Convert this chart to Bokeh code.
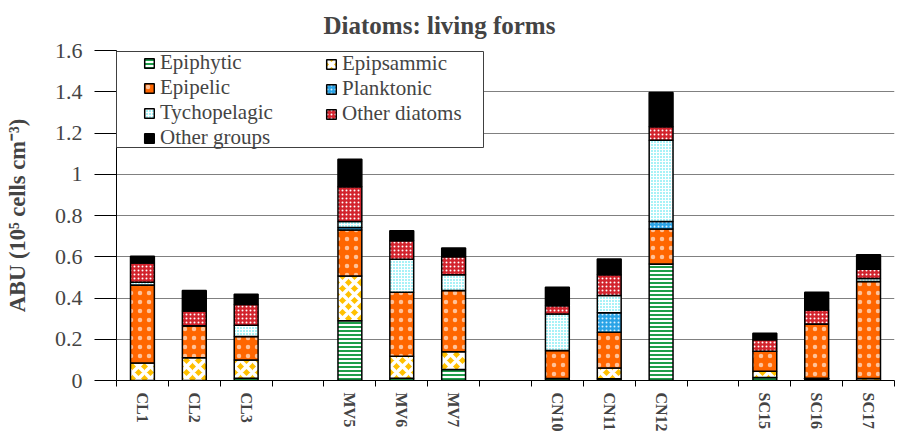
from bokeh.plotting import figure
from bokeh.models import (Range1d, FixedTicker, Legend, LegendItem,
                          BoxAnnotation, ColumnDataSource)
from bokeh.embed import file_html
from bokeh.resources import INLINE

# Sampling sites, grouped by area
groups = [["CL1", "CL2", "CL3"],
          ["MV5", "MV6", "MV7"],
          ["CN10", "CN11", "CN12"],
          ["SC15", "SC16", "SC17"]]
sites = [s for g in groups for s in g]

# Abundance of each living form (10^5 cells cm^-3)
epiphytic     = [0.000, 0.000, 0.011, 0.290, 0.011, 0.053, 0.010, 0.008, 0.565, 0.015, 0.004, 0.000]
epipsammic    = [0.085, 0.110, 0.089, 0.217, 0.107, 0.087, 0.000, 0.053, 0.000, 0.030, 0.007, 0.010]
epipelic      = [0.378, 0.156, 0.113, 0.223, 0.310, 0.296, 0.135, 0.173, 0.170, 0.097, 0.263, 0.470]
planktonic    = [0.000, 0.000, 0.000, 0.012, 0.000, 0.000, 0.000, 0.094, 0.036, 0.000, 0.000, 0.000]
tychopelagic  = [0.013, 0.000, 0.055, 0.029, 0.160, 0.077, 0.178, 0.084, 0.394, 0.000, 0.000, 0.015]
other_diatoms = [0.094, 0.071, 0.100, 0.168, 0.090, 0.087, 0.040, 0.101, 0.065, 0.055, 0.068, 0.045]
other_groups  = [0.032, 0.099, 0.050, 0.134, 0.048, 0.043, 0.089, 0.076, 0.166, 0.032, 0.086, 0.070]

series_names = ["Epiphytic", "Epipsammic", "Epipelic", "Planktonic",
                "Tychopelagic", "Other diatoms", "Other groups"]
series_values = [epiphytic, epipsammic, epipelic, planktonic,
                 tychopelagic, other_diatoms, other_groups]

y_ticks = [0, 0.2, 0.4, 0.6, 0.8, 1.0, 1.2, 1.4, 1.6]
y_tick_labels = ["0", "0.2", "0.4", "0.6", "0.8", "1", "1.2", "1.4", "1.6"]

FONT_BOLD = "Liberation Serif"
FONT_REG = "serif"

# Fill styles for each living form
fills    = ["white", "#ffc000", "#ff6600", "#2aa3e6", "#a8f2f7", "#d2232d", "black"]
patterns = ["horizontal_line", "diagonal_cross", "dot", "dot", "cross", "dot", " "]
hcolors  = ["#1e9e4a", "white", "#ffc299", "#d9f0ff", "white", "white", "black"]
hscales  = [4.0, 12.0, 9.0, 4.0, 3.0, 4.0, 1.0]
hweights = [2.0, 3.5, 1.0, 1.5, 1.0, 2.0, 1.0]

# One slot per site, an empty slot between areas
x_pos = [gi * (len(g) + 1) + j + 0.5 for gi, g in enumerate(groups) for j in range(len(g))]
n_slots = int(x_pos[-1] + 0.5)

keys = ["s%d" % i for i in range(len(series_names))]
data = {"x": x_pos, "site": sites}
for k, v in zip(keys, series_values):
    data[k] = v
src = ColumnDataSource(data)

p = figure(width=901, height=439,
           x_range=Range1d(0, n_slots), y_range=Range1d(0, 1.6),
           output_backend="svg", toolbar_location=None,
           min_border_left=116, min_border_right=7,
           min_border_top=50, min_border_bottom=59)
p.outline_line_color = None
p.background_fill_color = "white"
p.border_fill_color = "white"

renderers = p.vbar_stack(keys, x="x", width=0.46, source=src,
                         fill_color=fills, hatch_pattern=patterns,
                         hatch_color=hcolors, hatch_scale=hscales,
                         hatch_weight=hweights,
                         line_color="black", line_width=1.5)

# Title
p.title.text = "Diatoms: living forms"
p.title.text_font = FONT_BOLD
p.title.text_font_size = "25px"
p.title.text_font_style = "bold"
p.title.align = "left"
p.title.offset = 207
p.title.vertical_align = "top"
p.title.standoff = 20

# Y axis
p.yaxis.ticker = FixedTicker(ticks=y_ticks)
p.yaxis.major_label_overrides = dict(zip(y_ticks, y_tick_labels))
p.yaxis.axis_label = "ABU (10\u2075 cells cm\u207b\u00b3)"
p.yaxis.axis_label_text_font = FONT_BOLD
p.yaxis.axis_label_text_font_style = "bold"
p.yaxis.axis_label_text_font_size = "22.5px"
p.yaxis.axis_label_standoff = 22
p.yaxis.major_label_text_font = FONT_REG
p.yaxis.major_label_text_font_size = "22px"
p.yaxis.major_label_standoff = 12
p.yaxis.major_tick_out = 22
p.yaxis.major_tick_in = 0
p.yaxis.minor_tick_out = 0
p.yaxis.minor_tick_in = 0
p.yaxis.axis_line_color = "black"
p.yaxis.major_tick_line_color = "black"

p.ygrid.ticker = FixedTicker(ticks=y_ticks)
p.ygrid.grid_line_color = "#808080"
p.xgrid.visible = False

# X axis: labels at slot centres, tick marks at slot boundaries
p.xaxis.ticker = FixedTicker(ticks=x_pos, minor_ticks=list(range(n_slots + 1)))
p.xaxis.major_label_overrides = dict(zip(x_pos, sites))
p.xaxis.major_label_orientation = "vertical"
p.xaxis.major_label_text_font = FONT_BOLD
p.xaxis.major_label_text_font_style = "bold"
p.xaxis.major_label_text_font_size = "16px"
p.xaxis.major_label_standoff = 6
p.xaxis.major_tick_out = 0
p.xaxis.major_tick_in = 0
p.xaxis.minor_tick_out = 6
p.xaxis.minor_tick_in = 0
p.xaxis.axis_line_color = "black"
p.xaxis.minor_tick_line_color = "black"

# Legend frame and two columns of entries
box = BoxAnnotation(left=0, right=367, bottom=233, top=329,
                    left_units="screen", right_units="screen",
                    bottom_units="screen", top_units="screen",
                    fill_color="white", fill_alpha=1.0,
                    line_color="#404040", line_width=1, line_alpha=1.0)
p.add_layout(box)

items = [LegendItem(label=n, renderers=[r]) for n, r in zip(series_names, renderers)]

def make_legend(its, loc):
    return Legend(items=its, location=loc, margin=0, padding=0,
                  border_line_color=None, background_fill_alpha=0,
                  label_text_font=FONT_REG, label_text_font_size="21px",
                  label_text_line_height=1.15,
                  glyph_width=12, glyph_height=12, label_standoff=5,
                  label_height=20, spacing=0)

p.add_layout(make_legend(items[0::2], (27, 230)))
p.add_layout(make_legend(items[1::2], (209, 254)))

open("out.html", "w").write(file_html(p, INLINE))
